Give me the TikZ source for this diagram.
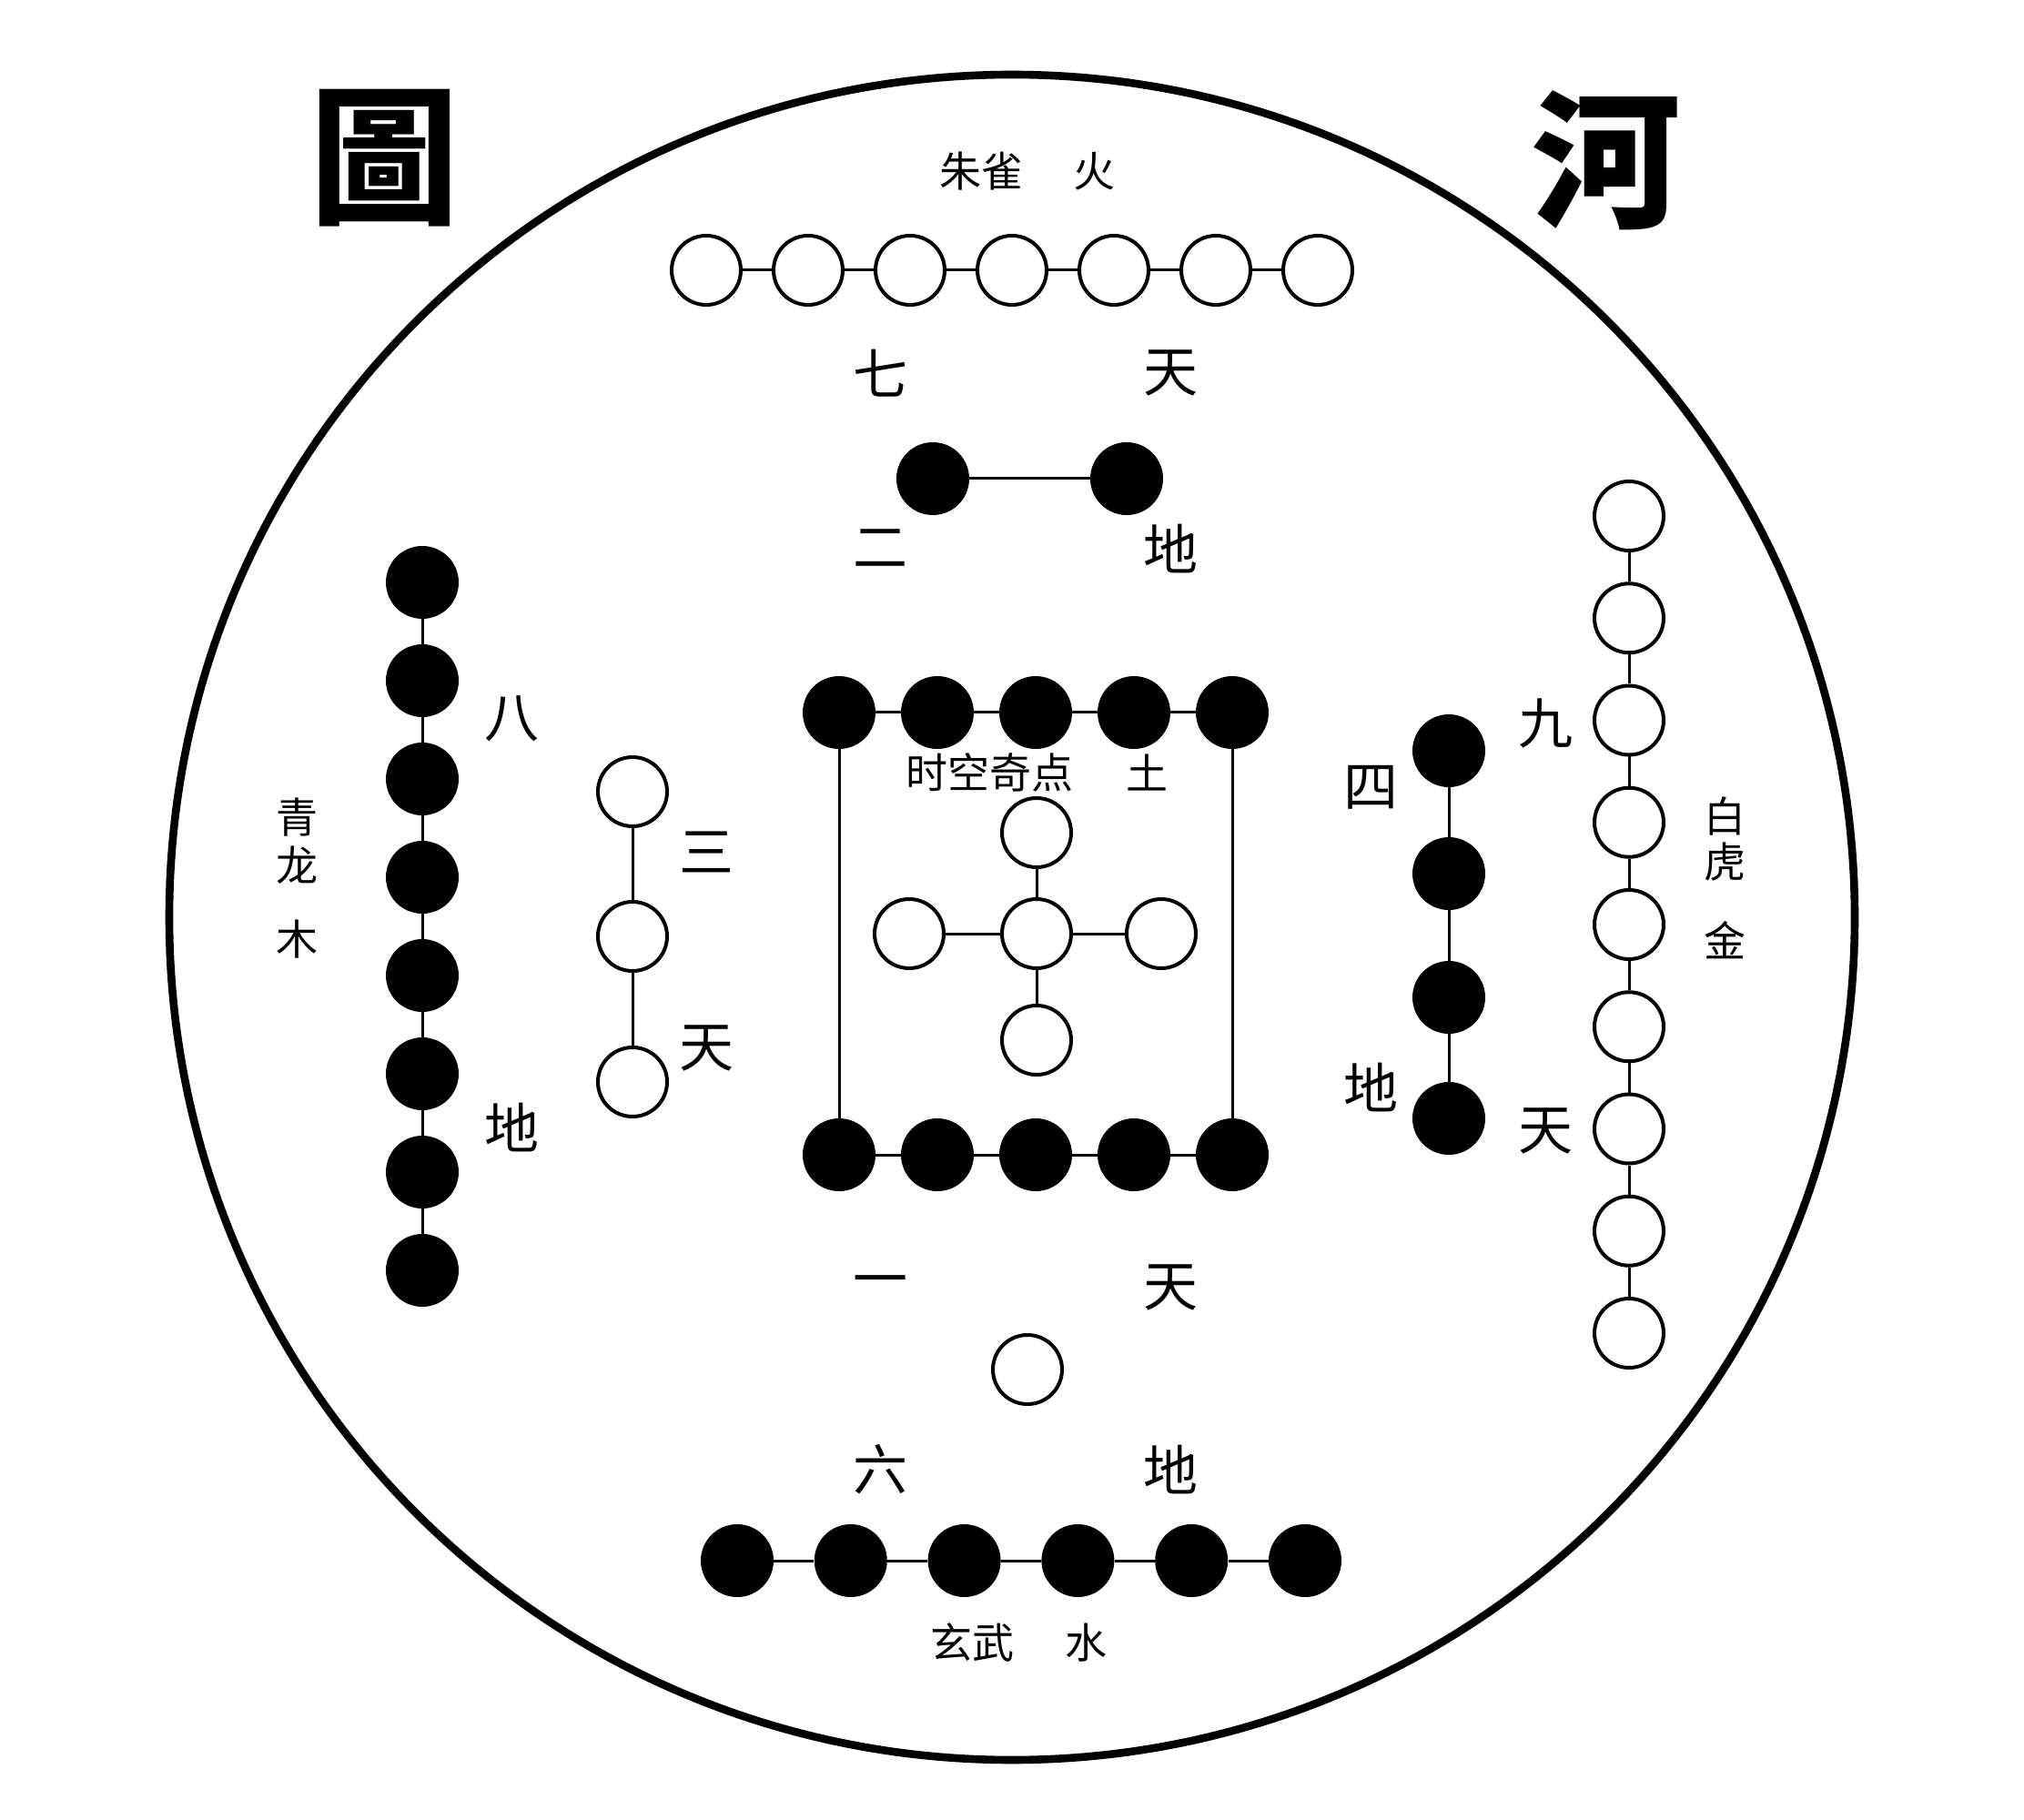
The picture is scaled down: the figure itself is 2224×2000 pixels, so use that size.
\documentclass[tikz,border=0pt]{standalone}
\usepackage{fontspec}
\newfontfamily\cjk{Noto Sans CJK SC}
\newfontfamily\cjktc{Noto Sans CJK TC}
\begin{document}
\begin{tikzpicture}[x=0.5pt,y=-0.5pt,
  wc/.style={circle,draw=black,line width=2pt,fill=white,minimum size=38pt,inner sep=0pt},
  bc/.style={circle,fill=black,minimum size=40pt,inner sep=0pt},
  conn/.style={line width=1.5pt},
  lab/.style={font=\cjk\fontsize{30}{30}\selectfont,inner sep=0pt},
  sml/.style={font=\cjk\fontsize{23}{23}\selectfont,inner sep=0pt},
  ttl/.style={font=\cjktc\bfseries\fontsize{82}{82}\selectfont,inner sep=0pt}]
\useasboundingbox (0,0) rectangle (2224,2000);
\fill[white] (0,0) rectangle (2224,2000);
% big circle
\node[circle,draw=black,line width=4.3pt,minimum size=926pt,inner sep=0pt] (bigc) at (1112,1008) {};
% titles
\node[ttl] (tA) at (422,174) {圖};
\node[ttl] (tB) at (1765,176) {河};
% top row of 7 white
\foreach \i in {1,...,7} \node[wc] (t\i) at ({664+112*\i},297) {};
\foreach \i [count=\j from 2] in {1,...,6} \draw[conn] (t\i) -- (t\j);
\node[sml] (lzq) at (1078,188) {朱雀};
\node[sml] (lhuo) at (1202,188) {火};
\node[lab] (l7) at (967,410) {七};
\node[lab] (ltA) at (1286,410) {天};
% two black
\node[bc] (p1) at (1025,526) {};
\node[bc] (p2) at (1238,526) {};
\draw[conn] (p1) -- (p2);
\node[lab] (l2) at (967,603) {二};
\node[lab] (ldA) at (1286,603) {地};
% left column 8 black
\foreach \i in {1,...,8} \node[bc] (lc\i) at (464,{532+108*\i}) {};
\foreach \i [count=\j from 2] in {1,...,7} \draw[conn] (lc\i) -- (lc\j);
\node[lab] (l8) at (562,790) {八};
\node[lab] (ldB) at (562,1239) {地};
\node[sml] (lq) at (326,898) {青};
\node[sml] (ll) at (326,951) {龙};
\node[sml] (lm) at (326,1032) {木};
% three white
\node[wc] (w1) at (695,870) {};
\node[wc] (w2) at (695,1029) {};
\node[wc] (w3) at (695,1189) {};
\draw[conn] (w1) -- (w2);
\draw[conn] (w2) -- (w3);
\node[lab] (l3) at (776,936) {三};
\node[lab] (ltB) at (776,1152) {天};
% central square
\foreach \i in {1,...,5} {
  \node[bc] (sa\i) at ({814+108*\i},783) {};
  \node[bc] (sb\i) at ({814+108*\i},1269) {};
}
\foreach \i [count=\j from 2] in {1,...,4} {
  \draw[conn] (sa\i) -- (sa\j);
  \draw[conn] (sb\i) -- (sb\j);
}
\draw[conn] (sa1) -- (sb1);
\draw[conn] (sa5) -- (sb5);
\node[sml] (lsk) at (1087,849) {时空奇点};
\node[sml] (ltu) at (1260,849) {土};
% cross
\node[wc] (cc) at (1139,1026) {};
\node[wc] (cn) at (1139,915) {};
\node[wc] (cs) at (1139,1143) {};
\node[wc] (cw) at (999,1026) {};
\node[wc] (ce) at (1276,1026) {};
\foreach \n in {cn,cs,cw,ce} \draw[conn] (cc) -- (\n);
% right black column 4
\foreach \i/\y in {1/825,2/960,3/1096,4/1229} \node[bc] (rb\i) at (1592,\y) {};
\foreach \i [count=\j from 2] in {1,...,3} \draw[conn] (rb\i) -- (rb\j);
\node[lab] (l4) at (1506,865) {四};
\node[lab] (ldC) at (1506,1195) {地};
% right white column 9
\foreach \i in {1,...,9} \node[wc] (rw\i) at (1790,{567+112.25*(\i-1)}) {};
\foreach \i [count=\j from 2] in {1,...,8} \draw[conn] (rw\i) -- (rw\j);
\node[lab] (l9) at (1698,795) {九};
\node[lab] (ltC) at (1698,1243) {天};
\node[sml] (lb) at (1895,897) {白};
\node[sml] (lh) at (1895,947) {虎};
\node[sml] (lj) at (1895,1033) {金};
% bottom
\node[lab] (l1) at (967,1415) {一};
\node[lab] (ltD) at (1286,1415) {天};
\node[wc] (one) at (1129,1505) {};
\node[lab] (l6) at (967,1615) {六};
\node[lab] (ldD) at (1286,1615) {地};
\foreach \i in {1,...,6} \node[bc] (bb\i) at ({810+124.8*(\i-1)},1715) {};
\foreach \i [count=\j from 2] in {1,...,5} \draw[conn] (bb\i) -- (bb\j);
\node[sml] (lxw) at (1068,1805) {玄武};
\node[sml] (lshui) at (1193,1805) {水};
\end{tikzpicture}
\end{document}
